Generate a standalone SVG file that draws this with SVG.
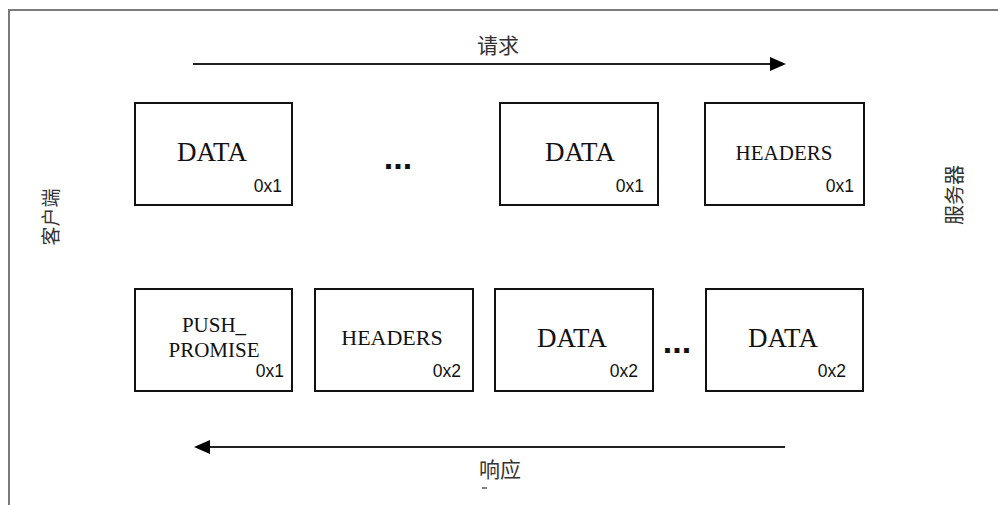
<svg xmlns="http://www.w3.org/2000/svg" width="998" height="505" viewBox="0 0 998 505">
  <style>
    .border { stroke: #7a7a7a; stroke-width: 2; fill: none; }
    .box { fill: #ffffff; stroke: #111111; stroke-width: 2; }
    .name { font-family: "Liberation Serif", "Times New Roman", serif; fill: #111111; text-anchor: middle; }
    .big { font-size: 27px; }
    .mid { font-size: 21px; }
    .mid2 { font-size: 22px; }
    .id { font-family: "Liberation Sans", Arial, sans-serif; font-size: 17.5px; fill: #111111; text-anchor: end; }
    .dots { font-family: "Liberation Sans", Arial, sans-serif; font-size: 34px; font-weight: bold; fill: #111111; text-anchor: middle; }
    .cjk { font-family: "Liberation Serif", "Noto Sans CJK SC", serif; fill: #333333; text-anchor: middle; }
    .line { stroke: #222222; stroke-width: 2; fill: none; }
  </style>

  <rect x="0" y="0" width="998" height="505" fill="#ffffff"/>
  <!-- outer frame: top and left edges -->
  <path class="border" d="M9,505 V10 H998"/>

  <!-- side labels -->
  <text class="cjk" font-size="19" transform="translate(58,217) rotate(-90)">客户端</text>
  <text class="cjk" font-size="20" transform="translate(962,195) rotate(-90)">服务器</text>

  <!-- direction labels -->
  <text class="cjk" font-size="21" x="498" y="53">请求</text>
  <text class="cjk" font-size="21" x="500" y="477">响应</text>
  <line x1="482" y1="488" x2="487" y2="488" stroke="#333333" stroke-width="1.2"/>

  <!-- connectors -->
  <g id="connectors">
    <line class="line" x1="193" y1="64" x2="770" y2="64"/>
    <path d="M770,57 L786,64 L770,71 Z" fill="#000000"/>
    <line class="line" x1="785" y1="447" x2="210" y2="447"/>
    <path d="M210,440 L194,447 L210,454 Z" fill="#000000"/>
  </g>

  <!-- request row -->
  <g id="req-data-1">
    <rect class="box" x="135" y="103" width="157" height="102"/>
    <text class="name big" x="212" y="161">DATA</text>
    <text class="id" x="282" y="192">0x1</text>
  </g>
  <g id="req-gap">
    <text class="dots" x="398" y="169">...</text>
  </g>
  <g id="req-data-2">
    <rect class="box" x="500" y="103" width="158" height="102"/>
    <text class="name big" x="580" y="161">DATA</text>
    <text class="id" x="644" y="192">0x1</text>
  </g>
  <g id="req-headers">
    <rect class="box" x="705" y="103" width="159" height="102"/>
    <text class="name mid" x="784" y="160">HEADERS</text>
    <text class="id" x="854" y="192">0x1</text>
  </g>

  <!-- response row -->
  <g id="resp-push-promise">
    <rect class="box" x="135" y="289" width="157" height="102"/>
    <text class="name mid" x="214" y="332">PUSH_</text>
    <text class="name mid" x="214" y="357">PROMISE</text>
    <text class="id" x="284" y="377">0x1</text>
  </g>
  <g id="resp-headers">
    <rect class="box" x="315" y="289" width="158" height="102"/>
    <text class="name mid2" x="392" y="345">HEADERS</text>
    <text class="id" x="461" y="377">0x2</text>
  </g>
  <g id="resp-data-1">
    <rect class="box" x="495" y="289" width="158" height="102"/>
    <text class="name big" x="572" y="347">DATA</text>
    <text class="id" x="638" y="377">0x2</text>
  </g>
  <g id="resp-gap">
    <text class="dots" x="677" y="353">...</text>
  </g>
  <g id="resp-data-2">
    <rect class="box" x="706" y="289" width="157" height="102"/>
    <text class="name big" x="783" y="347">DATA</text>
    <text class="id" x="846" y="377">0x2</text>
  </g>
</svg>
